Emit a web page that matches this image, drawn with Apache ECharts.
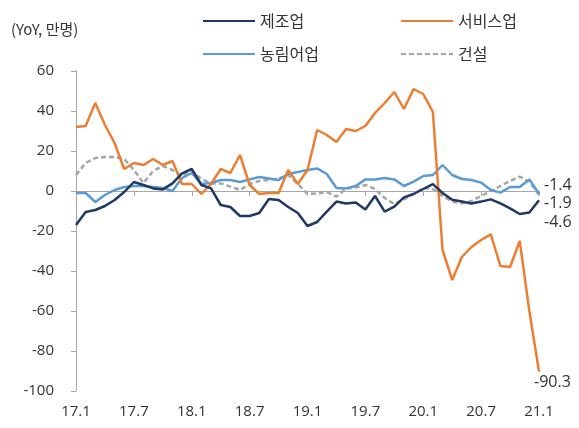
<!DOCTYPE html>
<html>
<head>
<meta charset="utf-8">
<script src="https://cdn.jsdelivr.net/npm/echarts@6/dist/echarts.min.js"></script>
<style>
html,body{margin:0;padding:0;background:#fff;}
#c{width:579px;height:428px;}
</style>
</head>
<body>
<div id="c"></div>
<script>
const months = ['17.1','17.2','17.3','17.4','17.5','17.6','17.7','17.8','17.9','17.10','17.11','17.12',
  '18.1','18.2','18.3','18.4','18.5','18.6','18.7','18.8','18.9','18.10','18.11','18.12',
  '19.1','19.2','19.3','19.4','19.5','19.6','19.7','19.8','19.9','19.10','19.11','19.12',
  '20.1','20.2','20.3','20.4','20.5','20.6','20.7','20.8','20.9','20.10','20.11','20.12',
  '21.1'];
const manufacturing = [-17,-10.5,-9.5,-7.5,-4.5,-0.5,4.5,3,1.3,0.8,3.8,8.8,
  11,3,1.3,-7,-8,-12.5,-12.5,-11,-4,-4.5,-8,-11,
  -17.5,-15.5,-10.3,-5.3,-6.2,-5.8,-9.2,-2.5,-10.3,-7.8,-3.2,-1.5,
  1,3.4,-1,-4.4,-5.3,-6.2,-5.3,-4.2,-6.2,-8.7,-11.5,-10.8,
  -4.6];
const services = [32,32.5,44,33,24,11,14,13,16,13,15,3.5,
  3.5,-1.5,3.5,11,9,18,3,-1.5,-1,-1,10.5,3.5,
  10.5,30.5,28,24.5,31,30,32.5,39,44,49.5,41,51,
  48.5,39.5,-29.5,-44.5,-33,-28,-24.5,-21.7,-37.5,-38,-25,-60,
  -90.3];
const agriculture = [-1,-1,-5.5,-2,0.5,2,2.5,2.5,2,1.5,0,6.5,
  9,3.5,4,5.5,5.5,4.5,5.8,7,6.3,5.5,8.5,9.5,
  10.5,11.3,8.5,1.5,1.3,2.5,5.8,5.8,6.5,5.8,2.5,4.7,
  7.5,8,13,8,6,5.5,4.2,0.5,-0.8,2,2,5.8,
  -1.4];
const construction = [8,14,16.5,17,17,16,10.5,4,10,12.5,10.5,7.5,
  10,6,3.8,3.8,2.2,0.5,3.5,5,5.5,6.3,8,3.5,
  -1.5,-1.2,-0.5,-2.8,1.2,1.8,3,1,-3.5,-6.5,-4.2,-1.5,
  1.5,1,-2.5,-5.3,-6.2,-5,-2.5,0,2.5,5,7.2,4.7,
  -1.9];
const seriesNames = ['제조업','서비스업','농림어업','건설'];
const yTicks = {min:-100, max:60, interval:20};

const FONT = "'Open Sans', 'Noto Sans CJK KR', sans-serif";
const KFONT = "'Noto Sans CJK KR', sans-serif";
const TXT = '#333333';
const chart = echarts.init(document.getElementById('c'), null, {renderer:'canvas'});

function endLbl(offset){
  return {show:true, position:'right', distance:5, offset:offset,
    formatter: p => String(p.value), fontSize:16, color:TXT, fontFamily:FONT};
}
const legendCommon = {orient:'vertical', top:8, itemWidth:52, itemHeight:14, itemGap:17,
  itemStyle:{opacity:0}, textStyle:{fontSize:16, color:TXT, fontFamily:KFONT}};

chart.setOption({
  animation:false,
  backgroundColor:'#fff',
  textStyle:{fontFamily:FONT},
  title:{text:'(YoY, 만명)', left:6, top:17,
    textStyle:{fontSize:15, fontWeight:'normal', color:TXT, fontFamily:KFONT}},
  legend:[
    Object.assign({left:197, data:[seriesNames[0], seriesNames[2]]}, legendCommon),
    Object.assign({left:395, data:[seriesNames[1], seriesNames[3]]}, legendCommon)
  ],
  grid:{left:76, right:40, top:71, bottom:37, containLabel:false},
  xAxis:[
    {type:'category', data:months, boundaryGap:false, position:'bottom',
     axisLine:{show:false, onZero:false}, axisTick:{show:false},
     axisLabel:{interval:5, margin:13, fontSize:15, color:TXT, fontFamily:FONT}},
    {type:'category', data:months, boundaryGap:false, position:'bottom',
     axisLine:{show:true, onZero:true, lineStyle:{color:'#a6a6a6', width:1}},
     axisTick:{show:true, interval:5, length:5, lineStyle:{color:'#a6a6a6'}},
     axisLabel:{show:false}}
  ],
  yAxis:{type:'value', min:yTicks.min, max:yTicks.max, interval:yTicks.interval,
    splitLine:{show:false},
    axisLine:{show:true, lineStyle:{color:'#a6a6a6', width:1}},
    axisTick:{show:true, length:5, lineStyle:{color:'#a6a6a6'}},
    axisLabel:{margin:22, fontSize:15, color:TXT, fontFamily:FONT}},
  series:[
    {name:seriesNames[0], type:'line', data:manufacturing, symbol:'none', z:4,
     lineStyle:{color:'#1f3864', width:2.5}, itemStyle:{color:'#1f3864'},
     endLabel:endLbl([0,22])},
    {name:seriesNames[1], type:'line', data:services, symbol:'none', z:3,
     lineStyle:{color:'#ed7d31', width:2.5}, itemStyle:{color:'#ed7d31'},
     endLabel:endLbl([-10,11])},
    {name:seriesNames[2], type:'line', data:agriculture, symbol:'none', z:2,
     lineStyle:{color:'#5b9bd5', width:2.5}, itemStyle:{color:'#5b9bd5'},
     endLabel:endLbl([0,-8])},
    {name:seriesNames[3], type:'line', data:construction, symbol:'none', z:1,
     lineStyle:{color:'#a6a6a6', width:2.5, type:[5,3]}, itemStyle:{color:'#a6a6a6'},
     endLabel:endLbl([0,9])}
  ]
});
</script>
</body>
</html>
